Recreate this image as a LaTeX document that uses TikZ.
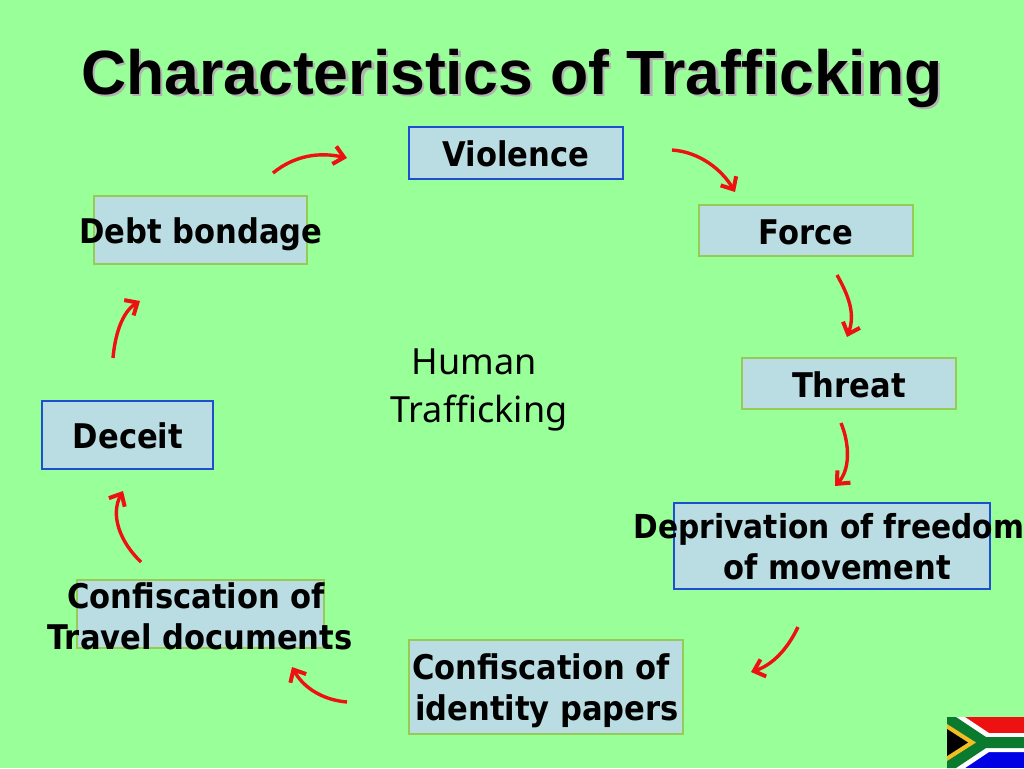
\documentclass[tikz,border=0pt]{standalone}
\usepackage{fontspec}
\setmainfont{Noto Sans}
\newfontfamily\titlefont{Liberation Sans}
\newfontfamily\boxfont{DejaVu Sans}[FakeStretch=0.9]
\usetikzlibrary{arrows.meta}
\definecolor{slidegreen}{HTML}{99FF99}
\definecolor{boxfill}{HTML}{B9DDE2}
\definecolor{blueedge}{HTML}{1F4FD0}
\definecolor{greenedge}{HTML}{96CC55}
\definecolor{arrowred}{HTML}{EE1111}
\definecolor{flaggreen}{HTML}{0A7A2E}
\definecolor{flaggold}{HTML}{F0BE22}
\tikzset{
  greenbox/.style={draw=greenedge,fill=boxfill,line width=1.1pt,inner sep=0pt},
  bluebox/.style={draw=blueedge,fill=boxfill,line width=1.1pt,inner sep=0pt},
  boxlabel/.style={font=\boxfont\bfseries\fontsize{34}{41}\selectfont,align=center,inner sep=0pt},
  cyclearrow/.style={draw=arrowred,line width=3.4pt,-{Straight Barb[length=10pt,width=18pt,line width=4pt]}}
}
\begin{document}
\begin{tikzpicture}[x=1pt,y=-1pt]
  \fill[slidegreen] (0,0) rectangle (1024,768);
  \useasboundingbox (0,0) rectangle (1024,768);

  % title
  \node[font=\titlefont\bfseries\fontsize{62.5}{70}\selectfont,text=gray!60,inner sep=0pt] (titleshadow) at (514.5,80) {Characteristics of Trafficking};
  \node[font=\titlefont\bfseries\fontsize{62.5}{70}\selectfont,inner sep=0pt] (title) at (512,78) {Characteristics of Trafficking};

  % boxes
  \node[bluebox,minimum width=214pt,minimum height=52pt] (violence) at (516,153) {};
  \node[greenbox,minimum width=214pt,minimum height=51pt] (force) at (806,230.5) {};
  \node[greenbox,minimum width=214pt,minimum height=51pt] (threat) at (849,383.5) {};
  \node[bluebox,minimum width=316pt,minimum height=86pt] (deprivation) at (832,546) {};
  \node[greenbox,minimum width=274pt,minimum height=94pt] (identity) at (546,687) {};
  \node[greenbox,minimum width=247pt,minimum height=68pt] (travel) at (200.5,614) {};
  \node[bluebox,minimum width=171pt,minimum height=68pt] (deceit) at (127.5,435) {};
  \node[greenbox,minimum width=213pt,minimum height=68pt] (debt) at (200.5,230) {};

  % texts, some of them wider than their box
  \node[boxlabel] (violencetext) at (516,154) {Violence};
  \node[boxlabel] (forcetext) at (806,232) {Force};
  \node[boxlabel] (threattext) at (849,385) {Threat};
  \node[boxlabel] (deprivationtext) at (829,547) {{\fontsize{33}{41}\selectfont Deprivation of freedom}\\\hspace*{16pt}of movement};
  \node[boxlabel] (identitytext) at (544,691) {Confiscation of\hspace*{6pt}\\\hspace*{6pt}identity papers};
  \node[boxlabel] (traveltext) at (200,616) {Confiscation of\hspace*{8pt}\\Travel documents};
  \node[boxlabel] (deceittext) at (128,436) {Deceit};
  \node[boxlabel] (debttext) at (201,234) {Debt bondage};
  \node[font=\fontsize{36}{47.5}\selectfont,align=center,inner sep=0pt] (centre) at (479,390) {Human\hspace*{10pt}\\Trafficking};

  % arrow ends, the arrows stop short of the boxes
  \coordinate (a1) at (273,173);  \coordinate (b1) at (347,158);
  \coordinate (a2) at (672,150);  \coordinate (b2) at (735,192);
  \coordinate (a3) at (837,275);  \coordinate (b3) at (847,337);
  \coordinate (a4) at (841,423);  \coordinate (b4) at (835,486);
  \coordinate (a5) at (798,627);  \coordinate (b5) at (751,672);
  \coordinate (a6) at (347,702);  \coordinate (b6) at (292,667);
  \coordinate (a7) at (141,562);  \coordinate (b7) at (123,491);
  \coordinate (a8) at (113,358);  \coordinate (b8) at (140,301);

  \draw[cyclearrow] (a1) .. controls (295,155) and (320,152) .. (b1);
  \draw[cyclearrow] (a2) .. controls (700,152) and (722,170) .. (b2);
  \draw[cyclearrow] (a3) .. controls (850,298) and (855,315) .. (b3);
  \draw[cyclearrow] (a4) .. controls (850,445) and (850,470) .. (b4);
  \draw[cyclearrow] (a5) .. controls (787,650) and (772,665) .. (b5);
  \draw[cyclearrow] (a6) .. controls (322,700) and (303,687) .. (b6);
  \draw[cyclearrow] (a7) .. controls (120,542) and (110,515) .. (b7);
  \draw[cyclearrow] (a8) .. controls (115,335) and (122,312) .. (b8);

  % flag
  \fill[arrowred] (947,717) rectangle (1024,742.5);
  \fill[blue!90!black] (947,742.5) rectangle (1024,768);
  \fill[white] (947,717) -- (965,717) -- (989,733) -- (1024,733) -- (1024,752) -- (989,752) -- (965,768) -- (947,768) -- cycle;
  \fill[flaggreen] (947,717) -- (956,717) -- (986,737) -- (1024,737) -- (1024,748) -- (986,748) -- (956,768) -- (947,768) -- cycle;
  \fill[flaggold] (947,724) -- (976,742.5) -- (947,761) -- cycle;
  \fill[black] (947,729) -- (968,742.5) -- (947,756) -- cycle;
\end{tikzpicture}
\end{document}
